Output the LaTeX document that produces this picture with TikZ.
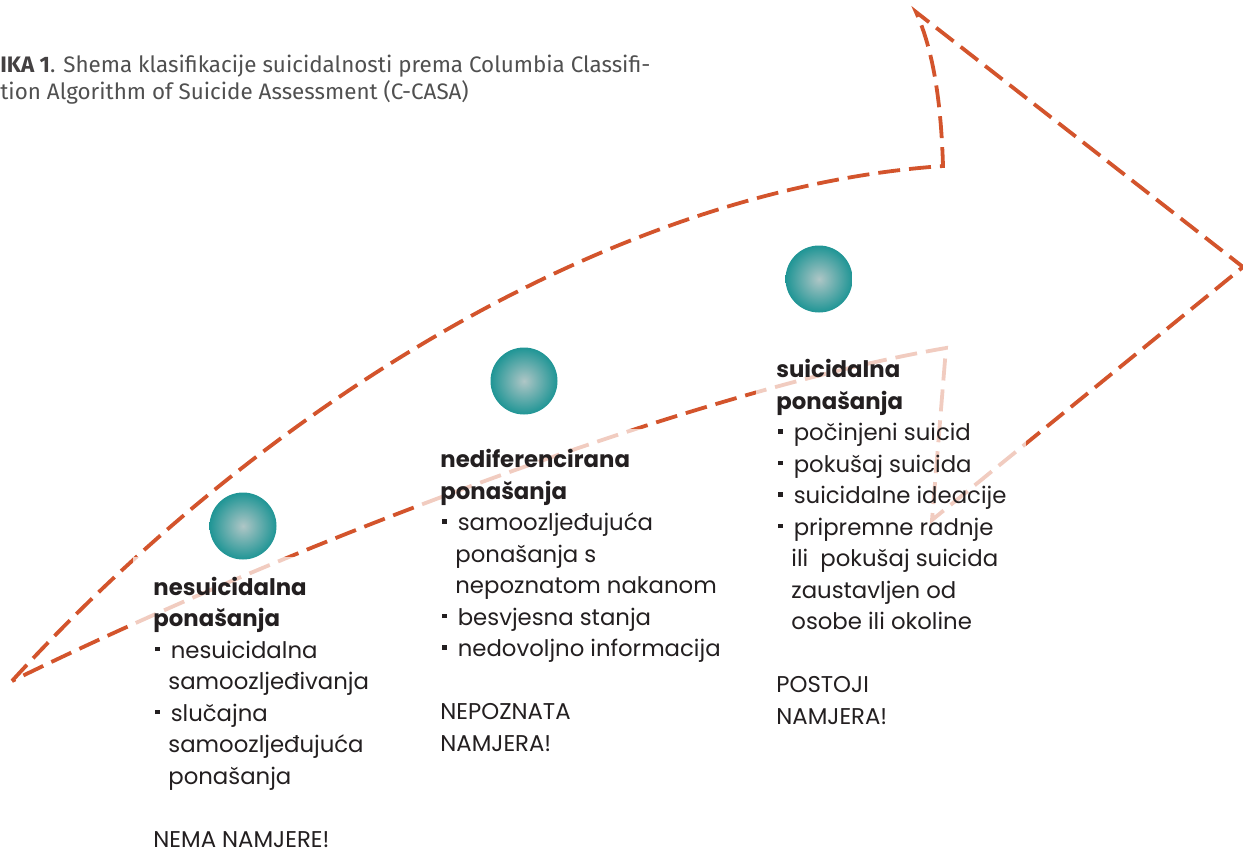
\documentclass[tikz,border=0pt]{standalone}
\usepackage{fontspec}
\setmainfont{Poppins}
\newfontfamily\naslovfont{Fira Sans}
\usepackage{xcolor}
\usetikzlibrary{positioning, calc}
\definecolor{narancasta}{HTML}{D3542C}
\definecolor{tirkiz}{HTML}{1F9595}
\definecolor{tirkizsvijetlo}{HTML}{AFC6C6}
\definecolor{tekst}{HTML}{231F20}
\definecolor{siva}{HTML}{505050}
\newcommand{\tck}{\hspace*{1pt}\rule[3.5pt]{2.2pt}{2.2pt}\hspace{5.5pt}}
\newcommand{\uvl}{\hspace*{7.5pt}}

\begin{document}
\begin{tikzpicture}[x=0.5pt, y=-0.5pt,
    kugla/.style={circle, minimum size=33.5pt, inner sep=0pt, shading=radial,
      inner color=tirkizsvijetlo, outer color=tirkiz},
    opis/.style={anchor=base west, align=left, inner sep=10pt, fill=white,
      fill opacity=0.7, text opacity=1, text=tekst,
      font=\fontsize{11.4}{15.75}\selectfont},
    strelica/.style={narancasta, line width=1.9pt, dash pattern=on 11pt off 4.5pt}]
    \useasboundingbox (0,0) rectangle (1243,852);

    \coordinate (rep) at (12,681);
    \coordinate (gore) at (943,166);
    \coordinate (vrh1) at (916,12);
    \coordinate (vrh) at (1243,267);
    \coordinate (dolje) at (932,520);
    \coordinate (sredina) at (946,348);

    \draw [strelica] (rep) .. controls (250,420) and (600,190) .. (gore)
      .. controls (941,100) and (933,50) .. (vrh1) -- (vrh) -- (dolje) -- (sredina)
      .. controls (700,390) and (300,540) .. cycle;

    % tekst ispod kugli, zadnji redak na bazi
    \node[anchor=base west, inner sep=0pt, align=left, text=siva,
      font=\naslovfont\fontsize{11.2}{13.5}\selectfont] (naslov) at (0,99)
      {{\bfseries\color{tekst!85}IKA 1}. Shema klasifikacije suicidalnosti prema Columbia Classifi-\\
      tion Algorithm of Suicide Assessment (C-CASA)};

    \node[opis] (opis1) at (133,847) {\textbf{nesuicidalna}\\
      \textbf{ponašanja}\\
      \tck nesuicidalna\\
      \uvl samoozljeđivanja\\
      \tck slučajna\\
      \uvl samoozljeđujuća\\
      \uvl ponašanja\\[15.75pt]
      NEMA NAMJERE!};
    \node[opis] (opis2) at (420,751) {\textbf{nediferencirana}\\
      \textbf{ponašanja}\\
      \tck samoozljeđujuća\\
      \uvl ponašanja s\\
      \uvl nepoznatom nakanom\\
      \tck besvjesna stanja\\
      \tck nedovoljno informacija\\[15.75pt]
      NEPOZNATA\\
      NAMJERA!};
    \node[opis] (opis3) at (756,724) {\textbf{suicidalna}\\
      \textbf{ponašanja}\\
      \tck počinjeni suicid\\
      \tck pokušaj suicida\\
      \tck suicidalne ideacije\\
      \tck pripremne radnje\\
      \uvl ili\ \ pokušaj suicida\\
      \uvl zaustavljen od\\
      \uvl osobe ili okoline\\[15.75pt]
      POSTOJI\\
      NAMJERA!};

    \node[kugla] (k1) at (243,526) {};
    \node[kugla] (k2) at (524,381) {};
    \node[kugla] (k3) at (819,279) {};
  \end{tikzpicture}
\end{document}
